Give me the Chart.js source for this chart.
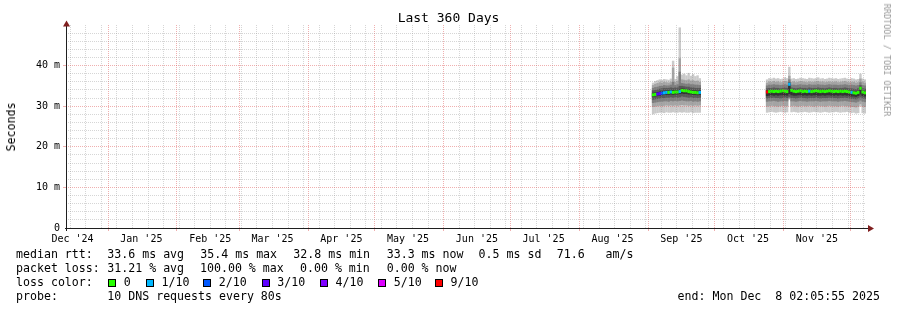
<!DOCTYPE html>
<html>
<head>
<meta charset="utf-8">
<title>Last 360 Days</title>
<script src="https://cdn.jsdelivr.net/npm/chart.js@4.4.1/dist/chart.umd.min.js"></script>
<style>
  html, body { margin: 0; padding: 0; background: #fff; }
  #wrap { position: relative; width: 897px; height: 310px; overflow: hidden;
          font-family: 'DejaVu Sans Mono', monospace; color: #000; }
  #graph { position: absolute; left: 0; top: 0; }
  .txt { position: absolute; white-space: pre; font-size: 11.6px; line-height: 14px; }
  .box { position: absolute; top: 278.5px; width: 6px; height: 6px; border: 1px solid #000; }
  #title { position: absolute; left: 0; top: 10px; width: 897px; text-align: center;
           font-size: 13px; line-height: 16px; }
  #ylabel { position: absolute; left: 11px; top: 127px; transform: translate(-50%, -50%) rotate(-90deg);
            font-size: 11.6px; line-height: 14px; white-space: pre; }
  #mark { position: absolute; left: 887px; top: 60px; transform: translate(-50%, -50%) rotate(90deg);
          font-size: 8.5px; line-height: 10px; color: #999; white-space: pre; }
</style>
</head>
<body>
<div id="wrap">
  <canvas id="graph" width="897" height="310"></canvas>
  <div id="title">Last 360 Days</div>
  <div id="ylabel">Seconds</div>
  <div id="mark">RRDTOOL / TOBI OETIKER</div>

  <span class="txt" style="left:16px;top:247px">median rtt:</span>
  <span class="txt" style="left:107.3px;top:247px">33.6 ms avg</span>
  <span class="txt" style="left:200.3px;top:247px">35.4 ms max</span>
  <span class="txt" style="left:293.3px;top:247px">32.8 ms min</span>
  <span class="txt" style="left:386.7px;top:247px">33.3 ms now</span>
  <span class="txt" style="left:478.6px;top:247px">0.5 ms sd</span>
  <span class="txt" style="left:556.7px;top:247px">71.6   am/s</span>

  <span class="txt" style="left:16px;top:261px">packet loss:</span>
  <span class="txt" style="left:107.3px;top:261px">31.21 % avg</span>
  <span class="txt" style="left:200px;top:261px">100.00 % max</span>
  <span class="txt" style="left:300px;top:261px">0.00 % min</span>
  <span class="txt" style="left:386.7px;top:261px">0.00 % now</span>

  <span class="txt" style="left:16px;top:275px">loss color:</span>
  <div id="losslegend"></div>

  <span class="txt" style="left:16px;top:289px">probe:</span>
  <span class="txt" style="left:107.3px;top:289px">10 DNS requests every 80s</span>
  <span class="txt" style="right:17px;top:289px">end: Mon Dec  8 02:05:55 2025</span>
</div>
<script>
// time axis is in days since the graph start (end time minus 360 days)
const DAY = 86400000;
const graphStart = Date.UTC(2024, 11, 13, 2, 5, 55);
const graphDays = 360;
const toDay = t => (t - graphStart) / DAY;

const monthNames = ['Jan', 'Feb', 'Mar', 'Apr', 'May', 'Jun', 'Jul', 'Aug', 'Sep', 'Oct', 'Nov', 'Dec'];
// months labelled on the time axis: [year, month index]
const axisMonths = [[2024, 11], [2025, 0], [2025, 1], [2025, 2], [2025, 3], [2025, 4],
                    [2025, 5], [2025, 6], [2025, 7], [2025, 8], [2025, 9], [2025, 10]];

// the two periods with data: first day (days since start) and number of daily steps
const blocks = [{ first: 263.7, days: 22 }, { first: 315.0, days: 45 }];

// loss levels (lost pings out of 10) and their colours
const lossLevels = [0, 1, 2, 3, 4, 5, 9];
const lossLabels = ['0', '1/10', '2/10', '3/10', '4/10', '5/10', '9/10'];
const lossColors = ['#26ff00', '#00b8ff', '#0059ff', '#5e00ff', '#7e00ff', '#dd00ff', '#ff0000'];

// sorted ping rtt per day in ms, ping1 = fastest .. ping10 = slowest
const ping1 = [
  28.0, 28.2, 28.3, 28.4, 28.4, 28.3, 28.5, 28.4, 28.4, 28.5, 28.4,
  28.4, 28.5, 28.4, 28.5, 28.4, 28.4, 28.5, 28.3, 28.4, 28.4, 28.4,
  28.4, 28.5, 28.6, 28.5, 28.4, 28.5, 28.6, 28.5, 28.4, 28.5,
  31.6, 28.5, 28.6, 28.5, 28.4, 28.5, 28.5, 28.6, 28.5, 28.4,
  28.5, 28.6, 28.5, 28.5, 28.4, 28.5, 28.6, 28.5, 28.4, 28.5,
  28.5, 28.6, 28.5, 28.4, 28.5, 28.5, 28.6, 28.4, 28.3, 28.4,
  28.2, 28.3, 30.0, 28.3, 28.2
];
const ping2 = [
  29.8, 29.9, 30.0, 30.1, 30.0, 30.1, 30.2, 30.1, 30.2, 30.1, 30.2,
  30.1, 30.2, 30.3, 30.2, 30.2, 30.1, 30.2, 30.1, 30.2, 30.1, 30.2,
  29.9, 30.0, 30.1, 30.0, 30.0, 29.9, 30.0, 30.1, 30.0, 30.0,
  31.8, 30.0, 30.1, 30.0, 29.9, 30.0, 30.1, 30.0, 30.0, 30.1,
  30.0, 29.9, 30.0, 30.1, 30.0, 30.0, 29.9, 30.0, 30.1, 30.0,
  30.0, 30.0, 29.9, 30.0, 30.1, 30.0, 30.0, 29.9, 29.8, 29.8,
  29.7, 29.9, 30.5, 29.9, 29.8
];
const ping3 = [
  30.8, 30.9, 31.0, 31.1, 31.1, 31.2, 31.2, 31.1, 31.3, 31.2, 31.3,
  31.2, 31.3, 31.4, 31.3, 31.2, 31.2, 31.3, 31.1, 31.2, 31.1, 31.2,
  31.1, 31.2, 31.2, 31.3, 31.2, 31.1, 31.2, 31.2, 31.3, 31.2,
  32.0, 31.2, 31.2, 31.1, 31.2, 31.3, 31.2, 31.2, 31.1, 31.2,
  31.2, 31.2, 31.3, 31.2, 31.1, 31.2, 31.2, 31.2, 31.3, 31.2,
  31.2, 31.2, 31.1, 31.2, 31.2, 31.3, 31.2, 31.1, 31.0, 31.0,
  30.9, 31.1, 31.4, 31.1, 31.0
];
const ping4 = [
  31.6, 31.7, 31.8, 31.9, 32.0, 32.0, 32.1, 32.1, 32.2, 32.1, 32.2,
  32.1, 32.2, 32.4, 32.3, 32.2, 32.1, 32.2, 32.0, 32.1, 32.0, 32.1,
  31.9, 32.0, 32.0, 32.1, 32.0, 32.0, 31.9, 32.0, 32.1, 32.0,
  32.3, 32.0, 32.0, 31.9, 32.0, 32.1, 32.0, 32.0, 31.9, 32.0,
  32.0, 32.0, 32.1, 32.0, 31.9, 32.0, 32.0, 32.0, 32.1, 32.0,
  32.0, 32.0, 31.9, 32.0, 32.0, 32.1, 32.0, 31.9, 31.8, 31.8,
  31.7, 31.9, 32.2, 31.9, 31.8
];
const ping5 = [
  32.3, 32.4, 32.5, 32.6, 32.7, 32.8, 32.8, 32.8, 32.9, 32.8, 32.9,
  32.9, 33.0, 33.1, 33.0, 33.0, 32.9, 32.9, 32.8, 32.8, 32.7, 32.8,
  32.5, 32.6, 32.7, 32.6, 32.7, 32.6, 32.7, 32.7, 32.6, 32.6,
  33.0, 32.7, 32.6, 32.6, 32.7, 32.7, 32.6, 32.7, 32.6, 32.7,
  32.6, 32.7, 32.7, 32.6, 32.6, 32.7, 32.6, 32.7, 32.7, 32.6,
  32.6, 32.7, 32.6, 32.7, 32.6, 32.7, 32.6, 32.5, 32.4, 32.4,
  32.3, 32.5, 32.9, 32.5, 32.4
];
const ping6 = [
  33.3, 33.4, 33.5, 33.6, 33.7, 33.8, 33.9, 33.9, 34.0, 33.9, 34.0,
  34.0, 34.1, 34.4, 34.3, 34.2, 34.1, 34.0, 33.9, 33.9, 33.8, 33.9,
  33.9, 34.0, 34.1, 34.0, 34.1, 34.0, 34.1, 34.2, 34.1, 34.0,
  35.6, 34.2, 34.1, 34.0, 34.1, 34.2, 34.0, 34.1, 34.0, 34.1,
  34.0, 34.1, 34.2, 34.1, 34.0, 34.1, 34.0, 34.1, 34.2, 34.1,
  34.0, 34.1, 34.0, 34.1, 34.0, 34.1, 34.0, 33.9, 33.8, 33.7,
  33.6, 33.8, 34.7, 33.9, 33.7
];
const ping7 = [
  33.9, 34.0, 34.1, 34.3, 34.4, 34.5, 34.5, 34.5, 34.6, 34.5, 34.6,
  34.6, 35.0, 35.0, 34.9, 34.8, 34.8, 34.6, 34.6, 34.5, 34.5, 34.5,
  34.4, 34.5, 34.5, 34.6, 34.5, 34.5, 34.4, 34.5, 34.6, 34.5,
  36.0, 34.6, 34.5, 34.4, 34.5, 34.6, 34.5, 34.5, 34.4, 34.6,
  34.5, 34.5, 34.5, 34.6, 34.5, 34.5, 34.4, 34.5, 34.6, 34.5,
  34.5, 34.5, 34.4, 34.5, 34.5, 34.6, 34.5, 34.4, 34.4, 34.3,
  34.2, 34.4, 35.2, 34.4, 34.3
];
const ping8 = [
  34.5, 34.7, 34.8, 35.0, 35.0, 35.2, 35.1, 35.1, 35.3, 36.0, 35.2,
  35.4, 38.5, 35.7, 35.6, 35.5, 35.6, 35.4, 35.4, 35.3, 35.3, 35.2,
  35.1, 35.3, 35.3, 35.4, 35.3, 35.3, 35.2, 35.3, 35.4, 35.3,
  36.6, 35.3, 35.3, 35.2, 35.3, 35.4, 35.3, 35.3, 35.2, 35.4,
  35.3, 35.3, 35.3, 35.4, 35.3, 35.3, 35.2, 35.3, 35.4, 35.3,
  35.3, 35.3, 35.2, 35.3, 35.3, 35.4, 35.3, 35.2, 35.3, 35.2,
  35.1, 35.2, 35.9, 35.2, 35.1
];
const ping9 = [
  35.2, 35.5, 35.7, 35.9, 35.8, 36.0, 35.9, 35.8, 36.0, 39.5, 36.0,
  36.3, 41.8, 36.6, 36.5, 36.4, 36.6, 36.3, 36.4, 36.2, 36.3, 36.0,
  35.8, 36.1, 36.0, 36.2, 36.0, 36.1, 35.9, 36.0, 36.2, 36.1,
  37.5, 36.0, 36.1, 35.9, 36.0, 36.2, 36.1, 36.0, 35.9, 36.1,
  36.0, 36.0, 36.1, 36.2, 36.0, 36.1, 35.9, 36.0, 36.1, 36.0,
  36.0, 36.1, 35.9, 36.0, 36.1, 36.2, 36.0, 35.9, 36.0, 36.0,
  35.8, 35.9, 36.8, 36.0, 35.8
];
const ping10 = [
  35.8, 36.2, 36.4, 36.6, 36.5, 36.7, 36.6, 36.5, 36.8, 41.2, 36.7,
  37.4, 49.4, 37.8, 38.0, 37.6, 38.2, 37.5, 37.9, 37.4, 37.6, 36.9,
  36.6, 36.9, 36.8, 37.0, 36.8, 36.9, 36.7, 36.8, 37.1, 36.9,
  39.7, 36.8, 36.9, 36.7, 36.8, 37.0, 36.9, 36.8, 36.7, 37.0,
  36.9, 36.8, 36.9, 37.1, 36.8, 36.9, 36.7, 36.8, 37.0, 36.9,
  36.8, 36.9, 36.7, 36.8, 36.9, 37.0, 36.8, 36.7, 36.9, 36.8,
  36.6, 36.7, 38.0, 36.8, 36.6
];
// median rtt per day (ms) and lost pings per day (out of 10)
const medianRtt = [
  32.8, 32.9, 33.0, 33.1, 33.2, 33.3, 33.4, 33.4, 33.5, 33.4, 33.5,
  33.5, 33.6, 33.9, 33.8, 33.8, 33.6, 33.5, 33.4, 33.4, 33.3, 33.4,
  33.5, 33.6, 33.7, 33.6, 33.7, 33.6, 33.7, 33.8, 33.7, 33.6,
  35.4, 33.9, 33.7, 33.6, 33.7, 33.8, 33.6, 33.7, 33.6, 33.7,
  33.6, 33.7, 33.8, 33.7, 33.6, 33.7, 33.6, 33.7, 33.8, 33.7,
  33.6, 33.7, 33.6, 33.7, 33.6, 33.7, 33.6, 33.5, 33.4, 33.3,
  33.2, 33.4, 34.4, 33.5, 33.3
];
const lostPings = [
  0, 0, 3, 3, 2, 1, 1, 0, 1, 0, 0,
  0, 1, 0, 0, 0, 0, 0, 0, 0, 0, 1,
  9, 0, 0, 0, 0, 0, 0, 0, 0, 0,
  1, 0, 0, 0, 0, 0, 0, 0, 0, 1,
  0, 0, 0, 0, 0, 0, 0, 0, 0, 0,
  0, 0, 0, 0, 0, 0, 0, 0, 1, 0,
  0, 0, 0, 0, 0
];

// y axis ticks (ms)
const yTicks = [0, 2, 4, 6, 8, 10, 12, 14, 16, 18, 20, 22, 24, 26, 28, 30,
                32, 34, 36, 38, 40, 42, 44, 46, 48, 50];

// ---- build time axis ticks ----
const monthLines = new Set();
const weekLines = new Set();
const monthLabels = new Map();
axisMonths.forEach(([y, m]) => {
  monthLines.add(toDay(Date.UTC(y, m + 1, 1)));
  monthLabels.set(toDay(Date.UTC(y, m, 16)), monthNames[m] + " '" + String(y).slice(2));
});
for (let t = Date.UTC(2024, 11, 15); toDay(t) < graphDays; t += 7 * DAY) {
  weekLines.add(toDay(t));
}
const xTicks = [...new Set([...monthLines, ...weekLines, ...monthLabels.keys()])]
  .filter(v => v > 0 && v < graphDays)
  .sort((a, b) => a - b);

// x position (day centre) of every daily step
const dayX = [];
blocks.forEach(b => {
  for (let i = 0; i < b.days; i++) dayX.push(b.first + i + 0.5);
});

const lossColor = n => {
  let c = lossColors[0];
  lossLevels.forEach((lv, i) => { if (n >= lv) c = lossColors[i]; });
  return c;
};

const MAJOR = 'rgba(222, 79, 79, 0.45)';
const MINOR = 'rgba(140, 140, 140, 0.36)';
const NONE = 'rgba(0, 0, 0, 0)';

// smoke: nested ranges between sorted pings, darker towards the middle
const pings = [ping1, ping2, ping3, ping4, ping5, ping6, ping7, ping8, ping9, ping10];
const smokeColors = ['#cacaca', '#a4a4a4', '#7e7e7e', '#585858', '#323232'];
const datasets = smokeColors.map((col, i) => ({
  label: 'smoke ' + (i + 1),
  data: dayX.map((x, k) => ({ x: x, y: [pings[i][k], pings[9 - i][k]] })),
  backgroundColor: col,
  order: 10 - i
}));
const medianHalf = 0.37; // half thickness of the median mark in ms
datasets.push({
  label: 'median rtt',
  data: dayX.map((x, k) => ({ x: x, y: [medianRtt[k] - medianHalf, medianRtt[k] + medianHalf] })),
  backgroundColor: ctx => lossColor(lostPings[ctx.dataIndex]),
  order: 0
});

// axis lines and arrows on top
const axisArrows = {
  id: 'axisArrows',
  afterDraw(chart) {
    const { ctx, chartArea: a } = chart;
    ctx.save();
    ctx.strokeStyle = '#1f1f1f';
    ctx.lineWidth = 1;
    ctx.beginPath();
    ctx.moveTo(a.left - 1, a.bottom + 0.5);
    ctx.lineTo(a.right + 3, a.bottom + 0.5);
    ctx.moveTo(a.left + 0.5, a.bottom + 3);
    ctx.lineTo(a.left + 0.5, a.top - 2);
    ctx.stroke();
    ctx.fillStyle = '#801f1f';
    ctx.beginPath();
    ctx.moveTo(a.right + 2, a.bottom - 3);
    ctx.lineTo(a.right + 8, a.bottom + 0.5);
    ctx.lineTo(a.right + 2, a.bottom + 4);
    ctx.closePath();
    ctx.fill();
    ctx.beginPath();
    ctx.moveTo(a.left - 3, a.top + 1.5);
    ctx.lineTo(a.left + 0.5, a.top - 4.5);
    ctx.lineTo(a.left + 4, a.top + 1.5);
    ctx.closePath();
    ctx.fill();
    ctx.restore();
  }
};

Chart.defaults.font.family = "'DejaVu Sans Mono', monospace";
Chart.defaults.font.size = 10;
Chart.defaults.color = '#000';

const chart = new Chart(document.getElementById('graph'), {
  type: 'bar',
  data: { datasets: datasets },
  options: {
    responsive: false,
    animation: false,
    events: [],
    layout: { padding: { left: 0, right: 31, top: 25, bottom: 0 } },
    datasets: {
      bar: { grouped: false, barPercentage: 1.1, categoryPercentage: 1, borderWidth: 0 }
    },
    plugins: { legend: { display: false }, tooltip: { enabled: false }, title: { display: false } },
    scales: {
      x: {
        type: 'linear',
        min: 0,
        max: graphDays,
        offset: false,
        afterBuildTicks: s => { s.ticks = xTicks.map(v => ({ value: v })); },
        afterFit: s => { s.height = 82; },
        grid: {
          z: 1,
          offset: false,
          lineWidth: 1,
          color: c => {
            const v = c.tick ? c.tick.value : null;
            if (monthLines.has(v)) return MAJOR;
            if (weekLines.has(v)) return MINOR;
            return NONE;
          },
          tickLength: 3,
          tickColor: c => (c.tick && monthLines.has(c.tick.value)) ? MAJOR : NONE
        },
        border: { display: false, dash: [1, 1] },
        ticks: {
          autoSkip: false,
          maxRotation: 0,
          padding: 2,
          callback: v => monthLabels.get(v) || ''
        }
      },
      y: {
        min: 0,
        max: 50,
        afterBuildTicks: s => { s.ticks = yTicks.map(v => ({ value: v })); },
        afterFit: s => { s.width = 66; },
        grid: {
          z: 1,
          lineWidth: 1,
          color: c => {
            const v = c.tick ? c.tick.value : null;
            if (v === 0 || v === 50 || v === null) return NONE;
            return v % 10 === 0 ? MAJOR : MINOR;
          },
          tickLength: 3,
          tickColor: c => {
            const v = c.tick ? c.tick.value : null;
            return (v !== null && v > 0 && v < 50 && v % 10 === 0) ? MAJOR : NONE;
          }
        },
        border: { display: false, dash: [1, 1] },
        ticks: {
          autoSkip: false,
          padding: 3,
          callback: v => (v % 10 === 0 && v < 50) ? (v === 0 ? '0' : v + ' m') : ''
        }
      }
    }
  },
  plugins: [axisArrows]
});

// loss colour legend
const lossBoxX = [108.3, 146, 203.3, 261.7, 320, 378.3, 435];
const holder = document.getElementById('losslegend');
lossLabels.forEach((lab, i) => {
  const b = document.createElement('div');
  b.className = 'box';
  b.style.left = lossBoxX[i] + 'px';
  b.style.background = lossColors[i];
  holder.appendChild(b);
  const s = document.createElement('span');
  s.className = 'txt';
  s.style.left = (lossBoxX[i] + 15.5) + 'px';
  s.style.top = '275px';
  s.textContent = lab;
  holder.appendChild(s);
});
</script>
</body>
</html>
